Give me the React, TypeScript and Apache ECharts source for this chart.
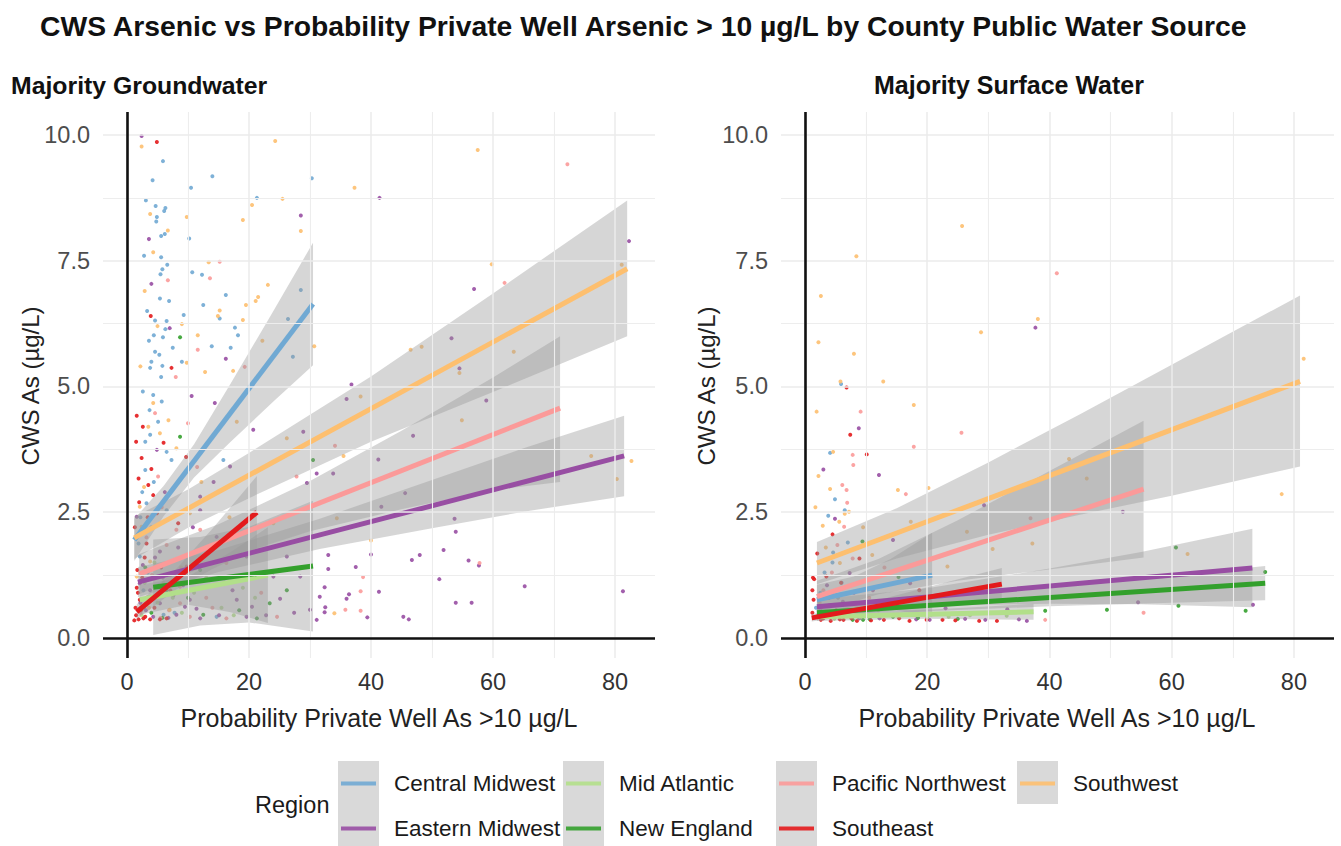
import React, { useEffect, useRef } from "react";
import * as echarts from "echarts";

const FONT = "'Liberation Sans', Arial, sans-serif";

const regions = ["Central Midwest", "Eastern Midwest", "Mid Atlantic", "New England", "Pacific Northwest", "Southeast", "Southwest"];
const regionColors = ["#70A9D3", "#984EA3", "#B2DF8A", "#33A02C", "#FB9A99", "#E31A1C", "#FDBF6F"];

const xTicks = [0, 20, 40, 60, 80];
const xMinor = [10, 30, 50, 70];
const yTicks = [0, 2.5, 5, 7.5, 10];
const yMinor = [1.25, 3.75, 6.25, 8.75];
const xRange = [-3.93, 86.56];
const yRange = [-0.398, 10.457];

// ---------- Majority Groundwater: fitted lines [x, y] ----------
const gwLineCM = [[1.2, 1.95], [30.5, 6.64]];
const gwLineEM = [[1.8, 1.11], [81.5, 3.62]];
const gwLineMA = [[2.1, 0.76], [23.1, 1.25]];
const gwLineNE = [[4.3, 1.01], [30.5, 1.43]];
const gwLinePNW = [[2.0, 1.27], [71.0, 4.57]];
const gwLineSE = [[1.6, 0.52], [21.3, 2.5]];
const gwLineSW = [[1.2, 1.99], [82.0, 7.34]];

// ---------- Majority Groundwater: confidence bands [x, low, high] ----------
const gwBandCM = [[1.2, 1.53, 2.37], [6, 2.42, 3.02], [11, 3.19, 3.85], [17, 3.9, 5.06], [24, 4.7, 6.5], [30.5, 5.42, 7.86]];
const gwBandEM = [[1.8, 0.81, 1.41], [15, 1.31, 1.75], [31.6, 1.77, 2.37], [50, 2.18, 3.14], [65, 2.51, 3.77], [81.5, 2.82, 4.42]];
const gwBandMA = [[2.1, 0.46, 1.06], [10, 0.66, 1.22], [17, 0.51, 1.71], [23.1, 0.3, 2.2]];
const gwBandNE = [[4.3, 0.06, 1.96], [12, 0.25, 2.01], [20, 0.31, 2.21], [30.5, 0.13, 2.73]];
const gwBandPNW = [[2.0, 0.87, 1.67], [15, 1.54, 2.26], [30, 2.12, 3.12], [45, 2.56, 4.12], [60, 2.94, 5.18], [71.0, 3.1, 6.0]];
const gwBandSE = [[1.6, 0.37, 0.67], [8, 0.96, 1.36], [14, 1.37, 2.17], [21.3, 1.78, 3.22]];
const gwBandSW = [[1.2, 1.57, 2.41], [10, 2.19, 2.95], [20, 2.78, 3.68], [40, 3.9, 5.2], [60, 4.89, 6.85], [82.0, 6.0, 8.7]];

// ---------- Majority Groundwater: county points [x, y] ----------
const gwPtsCM = [[5.9, 9.48], [14.0, 9.18], [30.3, 9.14], [10.5, 8.95], [21.3, 8.75], [4.7, 8.59], [6.3, 8.55], [6.1, 8.49], [4.9, 8.37], [4.8, 8.28], [6.2, 8.03], [5.6, 7.99], [10.2, 7.94], [5.6, 7.57], [6.6, 7.42], [5.8, 7.33], [10.7, 7.27], [12.3, 7.22], [5.5, 7.23], [28.5, 6.92], [5.4, 6.75], [16.2, 6.82], [6.9, 6.7], [12.5, 6.62], [15.2, 6.35], [9.3, 6.42], [4.6, 6.31], [6.5, 6.3], [26.4, 6.34], [17.7, 6.17], [6.3, 6.14], [18.2, 6.02], [4.4, 6.02], [5.9, 5.98], [3.6, 5.91], [13.9, 5.8], [7.5, 5.77], [17.0, 5.77], [4.6, 5.69], [5.3, 5.63], [27.2, 5.59], [4.0, 5.49], [9.0, 5.49], [5.8, 5.41], [3.8, 5.37], [5.6, 5.19], [4.3, 4.83], [5.7, 4.7], [3.7, 4.53], [5.1, 4.3], [3.8, 4.04], [6.5, 3.7], [7.3, 3.54], [3.0, 3.34], [3.2, 2.68], [2.1, 1.62], [15.8, 3.54], [14.7, 0.42], [6.0, 0.46], [2.7, 0.95], [1.9, 1.88], [6.5, 2.54], [2.5, 2.9], [4.0, 2.2], [3.4, 1.3], [5.2, 1.05], [2.8, 0.6], [7.8, 0.5], [2.2, 2.4], [3.0, 3.9], [4.4, 3.1], [2.6, 4.9], [3.3, 6.5], [2.8, 7.6], [4.2, 9.1], [3.1, 8.7]];
const gwPtsEM = [[2.4, 9.98], [28.5, 8.4], [3.6, 7.93], [4.0, 7.04], [7.0, 6.16], [16.2, 5.55], [14.4, 4.67], [10.6, 4.81], [4.9, 3.74], [20.7, 4.14], [12.0, 2.81], [12.0, 2.54], [16.9, 3.41], [5.4, 1.72], [12.5, 1.62], [19.6, 1.62], [26.2, 1.62], [28.9, 4.1], [29.5, 3.08], [31.1, 3.27], [24.0, 1.22], [28.4, 1.22], [31.6, 0.82], [31.1, 0.36], [30.0, 0.56], [18.0, 0.76], [19.6, 0.42], [12.0, 0.39], [8.1, 0.46], [10.3, 0.76], [4.3, 0.42], [5.4, 0.69], [2.1, 1.09], [1.6, 2.41], [14.7, 2.01], [41.4, 8.75], [82.3, 7.89], [56.9, 6.94], [53.2, 5.96], [54.5, 5.36], [36.8, 5.04], [36.0, 4.75], [58.9, 4.72], [46.9, 4.02], [41.2, 3.55], [33.8, 3.27], [45.6, 2.88], [41.7, 2.61], [53.7, 2.37], [53.9, 2.11], [51.9, 1.75], [33.0, 1.65], [40.0, 1.66], [48.0, 1.65], [46.7, 1.55], [56.0, 1.54], [57.7, 1.44], [33.0, 1.37], [37.5, 1.41], [51.2, 1.17], [65.2, 1.03], [81.3, 0.93], [32.4, 1.01], [41.3, 0.92], [36.4, 0.87], [36.0, 0.78], [53.9, 0.7], [56.5, 0.7], [32.5, 0.61], [32.4, 0.51], [39.4, 0.41], [45.3, 0.42], [46.2, 0.37], [3.1, 0.55], [6.8, 0.4], [9.5, 0.62], [2.6, 1.45], [7.2, 1.25], [3.8, 0.95], [5.9, 1.2], [7.6, 0.85], [9.2, 1.05], [11.4, 0.58], [13.5, 1.15], [15.1, 0.45], [17.3, 0.95], [20.5, 0.62], [22.8, 0.45], [25.1, 0.78], [27.4, 0.5], [2.2, 0.7], [4.6, 1.6], [8.4, 1.8], [10.8, 2.2], [6.2, 2.9], [14.2, 3.1]];
const gwPtsMA = [[3.5, 0.8], [6.0, 1.1], [9.0, 0.5], [11.0, 0.9], [15.5, 0.6], [4.5, 1.5], [2.4, 0.45], [19.0, 1.0], [5.0, 0.7], [7.5, 0.8], [13.0, 1.2], [17.5, 0.45], [21.0, 0.8], [2.9, 1.1]];
const gwPtsNE = [[8.7, 5.98], [12.0, 1.35], [30.5, 3.54], [26.2, 0.95], [23.4, 0.69], [21.3, 0.39], [12.5, 0.46], [6.5, 0.95], [8.7, 4.0], [4.0, 0.5], [16.0, 1.1], [3.0, 1.4], [5.8, 0.4], [10.0, 0.8], [18.4, 0.55]];
const gwPtsPNW = [[15.2, 7.48], [13.6, 7.15], [6.7, 7.11], [11.6, 5.73], [19.3, 5.39], [8.0, 5.19], [4.6, 4.47], [10.0, 4.27], [5.1, 3.21], [8.1, 2.15], [6.5, 1.85], [16.3, 1.49], [27.8, 3.21], [16.3, 0.39], [10.3, 0.42], [8.7, 0.69], [3.8, 0.82], [8.7, 1.02], [12.0, 2.15], [72.2, 9.42], [61.9, 7.06], [34.1, 3.82], [57.8, 1.49], [38.7, 1.21], [38.3, 0.93], [35.8, 0.56], [38.3, 0.54], [2.2, 0.5], [5.5, 0.4], [13.0, 0.8], [4.1, 1.25], [6.9, 0.55], [9.9, 1.3], [14.0, 0.6], [18.6, 1.2], [22.0, 0.9], [3.2, 2.0], [5.7, 2.6], [11.5, 3.4], [24.6, 0.42]];
const gwPtsSE = [[4.9, 9.86], [3.9, 6.4], [7.3, 5.37], [1.6, 4.42], [2.4, 3.58], [9.7, 3.6], [4.0, 3.36], [1.9, 3.17], [3.5, 3.04], [4.3, 2.84], [6.0, 3.88], [8.4, 2.28], [3.2, 1.88], [9.8, 1.42], [6.5, 0.39], [2.7, 0.39], [1.9, 0.37], [3.8, 0.37], [5.4, 0.37], [2.1, 0.76], [1.7, 1.35], [4.9, 2.48], [1.5, 0.45], [2.3, 0.55], [3.0, 0.42], [1.8, 0.9], [4.5, 0.6], [2.9, 1.6], [1.4, 0.6], [1.6, 1.0], [2.5, 1.2], [3.3, 0.8], [1.3, 2.2], [2.0, 2.7], [1.5, 3.9], [2.6, 4.2], [3.4, 2.4], [5.6, 1.4], [7.1, 0.95], [1.2, 0.35]];
const gwPtsSW = [[2.4, 9.77], [24.3, 9.88], [25.5, 8.73], [20.5, 8.61], [3.8, 8.43], [9.8, 8.37], [19.0, 8.31], [28.5, 8.09], [4.3, 7.67], [13.4, 7.47], [23.1, 7.02], [21.5, 6.78], [21.1, 6.7], [19.5, 6.62], [15.2, 6.51], [14.9, 6.4], [9.0, 6.24], [19.0, 6.32], [11.6, 6.02], [22.2, 5.91], [30.7, 5.8], [9.8, 5.47], [12.8, 5.29], [17.4, 5.31], [4.3, 4.67], [6.8, 4.33], [5.4, 4.07], [8.1, 3.77], [18.0, 4.3], [2.1, 2.61], [3.8, 1.52], [21.8, 1.75], [26.2, 3.97], [24.0, 2.28], [7.0, 0.56], [1.6, 1.22], [2.4, 2.21], [10.3, 2.48], [37.3, 8.95], [57.5, 9.7], [81.1, 7.42], [59.8, 7.43], [46.5, 5.73], [48.3, 5.79], [63.4, 5.69], [54.5, 5.27], [38.3, 4.8], [54.9, 4.33], [35.5, 3.62], [76.1, 3.62], [82.7, 3.52], [80.3, 3.16], [34.4, 2.38], [40.0, 1.94], [34.0, 0.49], [2.8, 3.0], [3.5, 4.2], [2.2, 5.4], [5.0, 6.2], [6.7, 8.1], [2.9, 6.9], [12.2, 3.1], [16.8, 2.4], [3.6, 0.6], [8.9, 1.4]];

// ---------- Majority Surface Water: fitted lines ----------
const swLineCM = [[1.95, 0.76], [20.8, 1.25]];
const swLineEM = [[1.95, 0.62], [73.2, 1.39]];
const swLineMA = [[1.95, 0.42], [37.4, 0.52]];
const swLineNE = [[1.95, 0.5], [75.3, 1.09]];
const swLinePNW = [[1.95, 0.82], [55.4, 2.96]];
const swLineSE = [[1.1, 0.4], [32.2, 1.07]];
const swLineSW = [[1.95, 1.49], [81.0, 5.1]];

// ---------- Majority Surface Water: confidence bands ----------
const swBandCM = [[1.95, 0.46, 1.06], [8, 0.62, 1.22], [14, 0.57, 1.57], [20.8, 0.41, 2.09]];
const swBandEM = [[1.95, 0.47, 0.77], [20, 0.64, 0.99], [40, 0.68, 1.38], [55, 0.67, 1.71], [73.2, 0.61, 2.17]];
const swBandMA = [[1.95, 0.34, 0.5], [20, 0.38, 0.56], [37.4, 0.36, 0.68]];
const swBandNE = [[1.95, 0.38, 0.62], [20, 0.53, 0.77], [40, 0.63, 0.99], [60, 0.7, 1.24], [75.3, 0.75, 1.43]];
const swBandPNW = [[1.95, 0.5, 1.14], [12, 0.87, 1.57], [25, 1.14, 2.34], [40, 1.36, 3.32], [55.4, 1.6, 4.32]];
const swBandSE = [[1.1, 0.33, 0.47], [10, 0.49, 0.69], [20, 0.61, 1.01], [32.2, 0.75, 1.39]];
const swBandSW = [[1.95, 1.07, 1.91], [15, 1.58, 2.58], [30, 2.05, 3.49], [45, 2.45, 4.45], [60, 2.83, 5.43], [81.0, 3.41, 6.81]];

// ---------- Majority Surface Water: county points ----------
const swPtsCM = [[5.9, 5.05], [4.1, 3.68], [4.9, 2.76], [6.5, 2.54], [3.8, 2.43], [4.6, 1.7], [4.5, 1.5], [3.5, 0.42], [2.5, 0.9], [6.0, 1.1], [1.8, 0.6], [3.2, 1.3], [5.4, 0.8], [7.0, 1.9]];
const swPtsEM = [[37.7, 6.17], [8.8, 4.17], [3.0, 3.35], [12.1, 3.24], [4.9, 2.37], [29.3, 2.64], [14.4, 1.95], [7.3, 1.29], [17.2, 1.09], [11.1, 0.95], [4.6, 0.92], [23.0, 0.59], [33.1, 0.57], [18.2, 0.37], [29.5, 0.36], [35.0, 0.37], [36.3, 0.34], [12.2, 0.39], [8.9, 0.39], [52.0, 2.51], [54.5, 0.71], [73.3, 0.66], [2.5, 0.55], [4.0, 0.65], [6.2, 0.72], [9.8, 0.6], [13.5, 0.75], [20.4, 0.36], [26.2, 0.38], [3.6, 1.05], [8.0, 0.9]];
const swPtsMA = [[3.0, 0.45], [6.5, 0.5], [12.0, 0.55], [20.0, 0.4], [27.0, 0.45], [4.8, 0.38], [9.0, 0.42], [15.0, 0.45], [23.5, 0.42], [33.0, 0.44]];
const swPtsNE = [[9.4, 1.92], [15.3, 1.21], [39.3, 0.54], [9.5, 0.36], [10.6, 0.37], [14.4, 0.42], [60.7, 1.8], [75.3, 1.31], [49.4, 0.56], [61.1, 0.64], [72.1, 0.54], [2.9, 0.4], [5.5, 0.45], [7.8, 0.36], [18.5, 0.4], [25.0, 0.38]];
const swPtsPNW = [[41.2, 7.25], [9.1, 4.5], [25.6, 4.08], [17.8, 3.8], [7.8, 3.64], [7.9, 3.44], [6.1, 3.04], [6.8, 2.94], [16.5, 2.86], [6.9, 2.69], [6.4, 2.21], [36.9, 2.38], [7.8, 1.58], [3.0, 0.95], [39.3, 0.36], [55.4, 0.5], [2.4, 0.7], [4.4, 1.3], [5.3, 1.85], [10.5, 0.8], [13.0, 1.4]];
const swPtsSE = [[6.8, 4.98], [7.4, 4.04], [10.1, 3.65], [4.5, 2.06], [2.0, 1.68], [8.9, 1.58], [1.5, 1.17], [3.5, 1.22], [5.9, 1.1], [18.7, 0.95], [1.4, 0.76], [15.4, 0.39], [22.5, 0.36], [28.5, 0.34], [31.4, 0.34], [3.0, 0.39], [5.7, 0.37], [7.6, 0.39], [1.2, 0.5], [2.2, 0.45], [2.6, 0.36], [4.2, 0.34], [6.3, 0.36], [8.5, 0.34], [10.8, 0.35], [12.9, 0.36], [17.1, 0.34], [19.9, 0.36], [24.6, 0.35], [1.3, 1.2], [1.2, 0.95], [2.8, 0.62], [3.9, 0.8], [5.1, 0.55]];
const swPtsSW = [[25.7, 8.19], [8.4, 7.59], [2.6, 6.8], [2.2, 5.88], [8.0, 5.65], [28.8, 6.08], [38.1, 6.34], [5.8, 5.1], [12.8, 5.1], [1.9, 4.5], [17.8, 4.63], [2.2, 3.22], [4.1, 2.96], [15.2, 2.94], [20.2, 2.98], [7.2, 2.51], [5.6, 2.31], [6.5, 2.47], [2.9, 2.23], [17.3, 2.31], [11.0, 1.65], [23.3, 1.42], [30.7, 1.77], [37.2, 1.88], [26.5, 2.11], [5.7, 1.49], [81.6, 5.55], [43.2, 3.56], [46.1, 3.17], [78.0, 2.86], [62.6, 1.67], [3.4, 1.8], [4.6, 3.7], [9.5, 2.2], [1.7, 2.6]];

const panelTitles = ["Majority Groundwater", "Majority Surface Water"];
const mainTitle = "CWS Arsenic vs Probability Private Well Arsenic > 10 µg/L by County Public Water Source";
const xTitle = "Probability Private Well As >10 µg/L";
const yTitle = "CWS As (µg/L)";
const legendTitle = "Region";

const panels = [
  {
    lines: [gwLineCM, gwLineEM, gwLineMA, gwLineNE, gwLinePNW, gwLineSE, gwLineSW],
    bands: [gwBandCM, gwBandEM, gwBandMA, gwBandNE, gwBandPNW, gwBandSE, gwBandSW],
    pts: [gwPtsCM, gwPtsEM, gwPtsMA, gwPtsNE, gwPtsPNW, gwPtsSE, gwPtsSW],
  },
  {
    lines: [swLineCM, swLineEM, swLineMA, swLineNE, swLinePNW, swLineSE, swLineSW],
    bands: [swBandCM, swBandEM, swBandMA, swBandNE, swBandPNW, swBandSE, swBandSW],
    pts: [swPtsCM, swPtsEM, swPtsMA, swPtsNE, swPtsPNW, swPtsSE, swPtsSW],
  },
];

const grids = [
  { left: 103, width: 552, top: 112, bottom: 188 },
  { left: 781, width: 553, top: 112, bottom: 188 },
];

function buildOption() {
  const series: any[] = [];
  panels.forEach((p, gi) => {
    series.push({
      type: "line",
      name: "grid" + gi,
      xAxisIndex: gi,
      yAxisIndex: gi,
      data: [],
      silent: true,
      z: 0,
      markLine: {
        silent: true,
        symbol: "none",
        animation: false,
        label: { show: false },
        lineStyle: { color: "#EBEBEB", width: 1.5, type: "solid" },
        data: [
          ...xMinor.map((v) => ({ xAxis: v, lineStyle: { width: 1.1, color: "#EDEDED", type: "solid" } })),
          ...yMinor.map((v) => ({ yAxis: v, lineStyle: { width: 1.1, color: "#EDEDED", type: "solid" } })),
          ...xTicks.map((v) => ({ xAxis: v })),
          ...yTicks.map((v) => ({ yAxis: v })),
        ],
      },
    });
    series.push({
      type: "line",
      name: "zero" + gi,
      xAxisIndex: gi,
      yAxisIndex: gi,
      data: [],
      silent: true,
      z: 6,
      markLine: {
        silent: true,
        symbol: "none",
        animation: false,
        label: { show: false },
        lineStyle: { color: "#111111", width: 2.6, type: "solid" },
        data: [{ xAxis: 0 }, { yAxis: 0 }],
      },
    });
    regions.forEach((r, ri) => {
      series.push({
        type: "scatter",
        name: r,
        xAxisIndex: gi,
        yAxisIndex: gi,
        data: p.pts[ri],
        symbol: "circle",
        symbolSize: 4,
        itemStyle: { color: regionColors[ri], opacity: 0.9 },
        silent: true,
        z: 1,
      });
    });
    regions.forEach((r, ri) => {
      const band = p.bands[ri];
      series.push({
        type: "custom",
        name: r + " CI",
        xAxisIndex: gi,
        yAxisIndex: gi,
        data: band,
        encode: { x: 0, y: [1, 2] },
        silent: true,
        z: 2,
        renderItem: (params: any, api: any) => {
          if (params.dataIndex !== 0) return { type: "group", children: [] };
          const upper = band.map((d) => api.coord([d[0], d[2]]));
          const lower = band.map((d) => api.coord([d[0], d[1]])).reverse();
          return {
            type: "polygon",
            shape: { points: upper.concat(lower) },
            style: { fill: "rgba(153,153,153,0.4)", stroke: "none" },
          };
        },
      });
    });
    regions.forEach((r, ri) => {
      series.push({
        type: "line",
        name: r,
        xAxisIndex: gi,
        yAxisIndex: gi,
        data: p.lines[ri],
        showSymbol: false,
        symbol: "none",
        lineStyle: { color: regionColors[ri], width: 5 },
        itemStyle: { color: regionColors[ri] },
        silent: true,
        z: 3,
      });
    });
  });

  const legendText = { fontSize: 22.5, color: "#1a1a1a", fontFamily: FONT, lineHeight: 22, padding: [0, 0, 0, 13] };
  const legendBase = {
    orient: "vertical",
    top: 772,
    padding: 0,
    itemGap: 22,
    itemWidth: 35,
    itemHeight: 4,
    icon: "rect",
    textStyle: legendText,
    selectedMode: false,
  };
  const legendCols = [
    { left: 341, data: [regions[0], regions[1]] },
    { left: 566, data: [regions[2], regions[3]] },
    { left: 779, data: [regions[4], regions[5]] },
    { left: 1020, data: [regions[6]] },
  ];
  const keyBoxes = [
    { x: 338, h: 86 },
    { x: 563, h: 86 },
    { x: 776, h: 86 },
    { x: 1017, h: 43 },
  ];

  const axisLabelX = { customValues: xTicks, fontSize: 23.5, color: "#333333", fontFamily: FONT, margin: 12 };
  const axisLabelY = {
    customValues: yTicks,
    fontSize: 23.5,
    color: "#4D4D4D",
    fontFamily: FONT,
    margin: 13,
    formatter: (v: number) => v.toFixed(1),
  };

  return {
    animation: false,
    backgroundColor: "#ffffff",
    grid: grids,
    xAxis: grids.map((_, i) => ({
      type: "value",
      gridIndex: i,
      min: xRange[0],
      max: xRange[1],
      axisLine: { show: false },
      axisTick: { show: false },
      splitLine: { show: false },
      axisLabel: axisLabelX,
    })),
    yAxis: grids.map((_, i) => ({
      type: "value",
      gridIndex: i,
      min: yRange[0],
      max: yRange[1],
      axisLine: { show: false },
      axisTick: { show: false },
      splitLine: { show: false },
      axisLabel: axisLabelY,
    })),
    legend: legendCols.map((c) => ({ ...legendBase, left: c.left, data: c.data })),
    series,
    graphic: [
      {
        type: "text",
        x: 40,
        y: 26,
        style: { text: mainTitle, fontSize: 28.3, fontWeight: "bold", fontFamily: FONT, fill: "#111111", verticalAlign: "middle" },
      },
      {
        type: "text",
        x: 11,
        y: 85,
        style: { text: panelTitles[0], fontSize: 24.8, fontWeight: "bold", fontFamily: FONT, fill: "#111111", verticalAlign: "middle" },
      },
      {
        type: "text",
        x: 874,
        y: 85,
        style: { text: panelTitles[1], fontSize: 25, fontWeight: "bold", fontFamily: FONT, fill: "#111111", verticalAlign: "middle" },
      },
      {
        type: "text",
        x: 379,
        y: 718,
        style: { text: xTitle, fontSize: 25, fontFamily: FONT, fill: "#222222", align: "center", verticalAlign: "middle" },
      },
      {
        type: "text",
        x: 1057,
        y: 718,
        style: { text: xTitle, fontSize: 25, fontFamily: FONT, fill: "#222222", align: "center", verticalAlign: "middle" },
      },
      {
        type: "text",
        x: 30,
        y: 386,
        rotation: Math.PI / 2,
        style: { text: yTitle, fontSize: 24, fontFamily: FONT, fill: "#222222", align: "center", verticalAlign: "middle" },
      },
      {
        type: "text",
        x: 706,
        y: 386,
        rotation: Math.PI / 2,
        style: { text: yTitle, fontSize: 24, fontFamily: FONT, fill: "#222222", align: "center", verticalAlign: "middle" },
      },
      {
        type: "text",
        x: 255,
        y: 805,
        style: { text: legendTitle, fontSize: 23.5, fontFamily: FONT, fill: "#1a1a1a", verticalAlign: "middle" },
      },
      ...keyBoxes.map((b) => ({
        type: "rect",
        z: -1,
        shape: { x: b.x, y: 761, width: 41, height: b.h },
        style: { fill: "#D9D9D9" },
        silent: true,
      })),
    ],
  };
}

export default function App() {
  const ref = useRef<HTMLDivElement>(null);
  useEffect(() => {
    if (!ref.current) return;
    const chart = echarts.init(ref.current, null, { renderer: "svg" });
    chart.setOption(buildOption() as any);
    return () => chart.dispose();
  }, []);
  return <div ref={ref} style={{ width: 1341, height: 846, position: "absolute", left: 0, top: 0 }} />;
}
